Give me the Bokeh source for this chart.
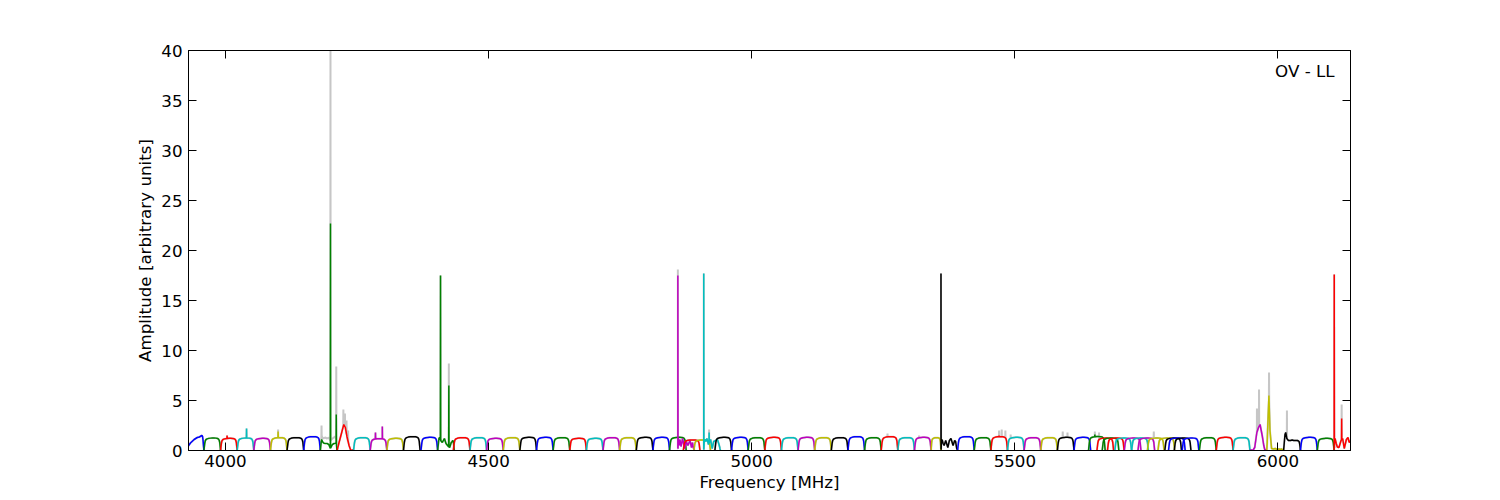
import numpy as np
from bokeh.plotting import figure
from bokeh.models import Range1d, LinearAxis, Label, FixedTicker
from bokeh.embed import file_html
from bokeh.resources import INLINE

# ---------------- data ----------------
x_ticks = [4000, 4500, 5000, 5500, 6000]
y_ticks = [0, 5, 10, 15, 20, 25, 30, 35, 40]
panel_label = "OV - LL"

# spectral-window start frequencies [MHz], colours, widths, levels
seg_start = [
    3927.4, 3959.0, 3990.6, 4022.2, 4053.8, 4085.4, 4117.0, 4148.6, 4180.2, 4211.8,
    4243.4, 4275.0, 4306.6, 4338.2, 4371.5, 4403.0, 4433.0, 4464.6, 4496.2, 4527.8,
    4559.4, 4591.0, 4622.6, 4654.2, 4685.8, 4717.4, 4749.0, 4780.6, 4812.2, 4843.8,
    4859.6, 4870.0, 4890.0, 4908.8, 4930.0, 4961.6, 4993.2, 5024.8, 5056.4, 5088.0,
    5119.6, 5151.2, 5182.8, 5214.4, 5246.0, 5277.6, 5309.2, 5340.8, 5359.6, 5391.2,
    5422.8, 5454.4, 5486.0, 5517.6, 5549.2, 5580.8, 5612.4,
    5640.0, 5656.0, 5666.0, 5676.0, 5690.0, 5708.0, 5722.0, 5734.0, 5752.0, 5772.0,
    5785.0, 5792.0, 5803.0, 5818.0,
    5850.7, 5882.7, 5914.7, 5946.7, 5978.7, 6010.7, 6042.7, 6074.7, 6106.7,
]
seg_color = [
    "b", "g", "r", "c", "m", "y", "k", "b", "g", "r",
    "c", "m", "y", "k", "b", "g", "r", "c", "m", "y",
    "k", "b", "g", "r", "c", "m", "y", "k", "b", "g",
    "m", "r", "y", "c", "k", "b", "g", "r", "c", "m",
    "y", "k", "b", "g", "r", "c", "m", "y", "k", "b",
    "g", "r", "c", "m", "y", "k", "b",
    "g", "r", "g", "r", "c", "m", "c", "m", "y", "y",
    "k", "b", "k", "b",
    "g", "r", "c", "m", "y", "k", "b", "g", "r",
]
seg_width = [
    31.6, 31.6, 31.6, 31.6, 31.6, 31.6, 31.6, 31.6, 31.6, 31.6,
    31.6, 31.6, 31.6, 31.6, 31.6, 31.6, 31.6, 31.6, 31.6, 31.6,
    31.6, 31.6, 31.6, 31.6, 31.6, 31.6, 31.6, 31.6, 31.6, 31.6,
    31.6, 31.6, 31.6, 31.6, 31.6, 31.6, 31.6, 31.6, 31.6, 31.6,
    31.6, 31.6, 31.6, 31.6, 31.6, 31.6, 31.6, 18.8, 31.6, 31.6,
    31.6, 31.6, 31.6, 31.6, 31.6, 31.6, 31.6,
    31.6, 31.6, 31.6, 31.6, 31.6, 31.6, 31.6, 31.6, 31.6, 31.6,
    31.6, 31.6, 31.6, 31.6,
    32.0, 32.0, 32.0, 32.0, 32.0, 32.0, 32.0, 32.0, 32.0,
]
seg_level = [
    1.30, 1.25, 1.22, 1.25, 1.22, 1.28, 1.28, 1.38, 1.00, 1.00,
    1.28, 1.18, 1.22, 1.38, 1.32, 1.00, 1.28, 1.28, 1.22, 1.28,
    1.32, 1.32, 1.28, 1.22, 1.22, 1.28, 1.28, 1.32, 1.32, 1.32,
    1.00, 1.05, 1.05, 1.00, 1.32, 1.32, 1.28, 1.32, 1.28, 1.32,
    1.28, 1.28, 1.38, 1.28, 1.38, 1.28, 1.32, 1.28, 1.00, 1.38,
    1.28, 1.38, 1.32, 1.28, 1.28, 1.32, 1.32,
    1.40, 1.25, 1.25, 1.25, 1.25, 1.25, 1.25, 1.25, 1.25, 1.25,
    1.25, 1.25, 1.25, 1.25,
    1.28, 1.32, 1.28, 1.00, 1.00, 1.00, 1.32, 1.22, 1.00,
]

# generic bandpass: offsets [MHz] for a 31.6 MHz window, normalised amplitude
bp_offset = [0, 0.8, 1.6, 2.6, 4, 6, 9, 13, 16, 19, 23, 26, 27.8, 29, 30, 30.8, 31.6]
bp_shape = [0.02, 0.30, 0.58, 0.78, 0.88, 0.93, 0.97, 0.99, 1.00, 1.00,
            0.99, 0.96, 0.91, 0.82, 0.66, 0.34, 0.02]

# windows with irregular (RFI-affected) bandpasses, sampled at bp_offset
custom_seg = [0, 8, 9, 15, 30, 33, 48, 74, 75, 76, 79]
custom_profile = [
    [0.10, 0.30, 0.42, 0.50, 0.60, 0.75, 0.90, 1.10, 1.20, 1.30, 1.35, 1.45, 1.50, 1.40, 1.00, 0.45, 0.02],
    [0.02, 0.40, 0.80, 1.10, 0.90, 0.75, 0.70, 0.70, 0.60, 0.20, 0.60, 0.70, 0.70, 0.75, 0.80, 0.50, 0.02],
    [0.02, 0.10, 0.30, 0.50, 0.80, 1.20, 1.80, 2.60, 2.30, 1.40, 0.50, 0.05, 0.02, 0.02, 0.05, 0.05, 0.02],
    [0.02, 0.30, 0.70, 1.20, 1.30, 1.00, 0.80, 1.20, 0.70, 0.50, 0.30, 0.80, 0.90, 1.00, 0.90, 0.50, 0.02],
    [0.20, 1.20, 1.00, 0.50, 1.10, 0.40, 1.20, 0.20, 0.90, 0.50, 1.00, 0.30, 0.80, 0.40, 0.20, 0.10, 0.02],
    [0.10, 0.80, 1.00, 1.10, 0.90, 1.20, 0.60, 1.10, 0.20, 0.90, 1.00, 1.10, 0.80, 0.60, 0.40, 0.20, 0.02],
    [0.10, 0.80, 1.10, 1.00, 0.70, 0.50, 1.00, 0.30, 1.00, 1.20, 0.50, 1.00, 0.90, 0.50, 0.20, 0.10, 0.02],
    [0.02, 0.05, 0.03, 0.05, 0.03, 0.05, 0.30, 1.80, 2.30, 2.60, 1.50, 0.50, 0.10, 0.05, 0.03, 0.02, 0.02],
    [0.02, 0.80, 2.00, 3.50, 5.50, 2.00, 0.20, 0.15, 0.20, 0.10, 0.15, 0.10, 0.15, 0.10, 0.10, 0.05, 0.02],
    [0.02, 0.50, 1.00, 1.60, 1.80, 1.20, 1.00, 1.00, 1.05, 1.00, 1.00, 1.00, 0.95, 0.90, 0.70, 0.40, 0.02],
    [0.02, 1.00, 1.20, 1.00, 0.70, 0.35, 0.30, 1.00, 1.20, 0.20, 1.10, 1.30, 0.90, 0.80, 0.90, 1.00, 1.00],
]
# raw (unflagged) data differing from the flagged line, sampled at bp_offset
gray_seg = [8]
gray_profile = [
    [0.02, 0.50, 1.00, 1.50, 1.30, 1.20, 1.30, 1.20, 1.30, 1.00, 1.20, 1.30, 1.40, 1.30, 1.40, 0.80, 0.02],
]

# narrow spikes: window index, frequency, flagged amplitude, raw amplitude
spike_seg = [2, 3, 5, 8, 8, 8, 9, 9, 9, 9,
             11, 11, 15, 15, 30, 33, 33, 44, 46, 48,
             51, 51, 51, 52, 55, 55, 57, 58, 65,
             74, 74, 75, 76, 79, 79]
spike_freq = [4003.0, 4040.0, 4100.0, 4182.5, 4199.5, 4210.5, 4224.0, 4227.0, 4230.0, 4233.0,
              4285.0, 4298.0, 4408.6, 4424.4, 4859.6, 4908.8, 4919.0, 5258.0, 5318.0, 5359.6,
              5470.0, 5475.0, 5482.0, 5492.0, 5591.0, 5600.0, 5652.0, 5660.0, 5764.0,
              5960.0, 5964.0, 5983.0, 6017.0, 6106.9, 6121.0]
spike_amp = [1.5, 2.2, 1.9, 0.0, 22.7, 3.6, 0.0, 0.0, 0.0, 0.0,
             1.8, 2.4, 17.5, 6.5, 17.5, 17.7, 1.8, 0.0, 0.0, 17.7,
             1.5, 0.0, 0.0, 0.0, 0.0, 0.0, 1.6, 0.0, 0.0,
             0.0, 0.0, 0.0, 0.0, 17.6, 3.2]
spike_gray = [1.5, 2.2, 2.1, 2.5, 40.5, 8.4, 4.1, 3.7, 3.0, 2.0,
              1.8, 2.4, 17.5, 8.7, 18.1, 17.7, 2.1, 1.7, 1.5, 17.7,
              2.0, 2.1, 2.0, 1.6, 1.9, 1.8, 1.9, 1.8, 1.9,
              4.2, 6.1, 7.8, 4.0, 17.6, 4.6]

palette = {"b": "#0000ff", "g": "#008000", "r": "#ff0000", "c": "#00bfbf",
           "m": "#bf00bf", "y": "#bfbf00", "k": "#000000"}
raw_color = "#c6c6c6"


def window_line(i, raw):
    w = seg_width[i]
    s = seg_start[i]
    xs = [s + o * w / 31.6 for o in bp_offset]
    if raw and i in gray_seg:
        ys = list(gray_profile[gray_seg.index(i)])
    elif i in custom_seg:
        ys = list(custom_profile[custom_seg.index(i)])
    else:
        ys = [seg_level[i] * v for v in bp_shape]
    pts = list(zip(xs, ys))
    for k in range(len(spike_seg)):
        if spike_seg[k] != i:
            continue
        amp = spike_gray[k] if raw else spike_amp[k]
        if amp <= 0:
            continue
        f = spike_freq[k]
        base = float(np.interp(f, xs, ys))
        pts += [(f - 0.3, base), (f, amp), (f + 0.3, base)]
    pts.sort()
    return [p[0] for p in pts], [p[1] for p in pts]


raw_xs, raw_ys, col_xs, col_ys, cols = [], [], [], [], []
for i in range(len(seg_start)):
    x, y = window_line(i, True)
    raw_xs.append(x)
    raw_ys.append(y)
    x, y = window_line(i, False)
    col_xs.append(x)
    col_ys.append(y)
    cols.append(palette[seg_color[i]])

FONT = "DejaVu Sans"
FS = "16.7px"

p = figure(width=1500, height=500, output_backend="svg", toolbar_location=None,
           x_range=Range1d(3929.7, 6137.8), y_range=Range1d(0, 40),
           min_border_left=188, min_border_right=150, min_border_top=50,
           min_border_bottom=50)
p.grid.visible = False
p.outline_line_color = "black"
p.outline_line_width = 1
p.background_fill_color = "white"
p.border_fill_color = "white"

p.multi_line(xs=raw_xs, ys=raw_ys, line_color=raw_color, line_width=2)
p.multi_line(xs=col_xs, ys=col_ys, line_color=cols, line_width=1.5)

bottom_ax = p.below[0]
left_ax = p.left[0]
top_ax = LinearAxis()
right_ax = LinearAxis()
p.add_layout(top_ax, "above")
p.add_layout(right_ax, "right")

for ax in [bottom_ax, top_ax]:
    ax.ticker = FixedTicker(ticks=x_ticks)
for ax in [left_ax, right_ax]:
    ax.ticker = FixedTicker(ticks=y_ticks)

for ax in [bottom_ax, left_ax, top_ax, right_ax]:
    ax.major_tick_in = 8
    ax.major_tick_out = 0
    ax.minor_tick_in = 0
    ax.minor_tick_out = 0
    ax.axis_line_color = "black"
    ax.major_tick_line_color = "black"
    ax.major_label_text_font = FONT
    ax.major_label_text_font_size = FS
    ax.major_label_text_color = "black"
    ax.axis_label_text_font = FONT
    ax.axis_label_text_font_size = FS
    ax.axis_label_text_font_style = "normal"
    ax.axis_label_text_color = "black"

top_ax.major_label_overrides = {t: "" for t in x_ticks}
right_ax.major_label_overrides = {t: "" for t in y_ticks}
top_ax.major_label_standoff = 0
right_ax.major_label_standoff = 0

bottom_ax.axis_label = "Frequency [MHz]"
bottom_ax.major_label_standoff = 4
bottom_ax.axis_label_standoff = 2
left_ax.axis_label = "Amplitude [arbitrary units]"
left_ax.major_label_standoff = 6
left_ax.axis_label_standoff = 3

p.add_layout(Label(x=6107.5, y=38.0, text=panel_label, text_align="right",
                   text_baseline="middle", text_font=FONT, text_font_size=FS,
                   text_color="black"))

open("out.html", "w").write(file_html(p, INLINE))
